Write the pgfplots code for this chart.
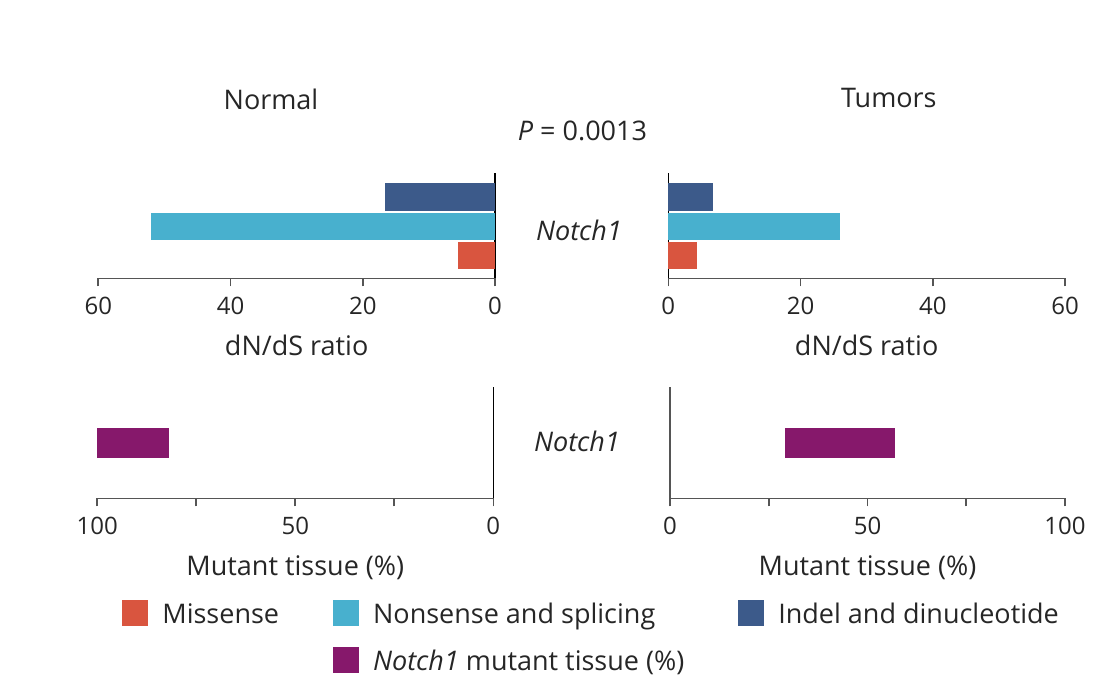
\documentclass[border=0pt]{standalone}
\usepackage{pgfplots}
\pgfplotsset{compat=1.18}
\usepackage{fontspec}
\setmainfont{Open Sans}
\definecolor{mred}{HTML}{D9553F}
\definecolor{mcyan}{HTML}{48B0CE}
\definecolor{mblue}{HTML}{3C5A8A}
\definecolor{mpurple}{HTML}{86186B}
\definecolor{axgray}{HTML}{555555}
\pgfplotsset{
  panel/.style={
    scale only axis,
    clip=false,
    axis x line*=bottom,
    x axis line style={draw=axgray, line width=0.8pt},
    ytick=\empty,
    tick align=outside,
    major tick length=4pt,
    xtick style={draw=axgray, line width=0.8pt},
    /pgf/number format/assume math mode=true,
    xticklabel style={font=\fontsize{12}{14}\selectfont, text=black!85, yshift=-2pt},
    xlabel style={font=\fontsize{13.5}{16}\selectfont, text=black!85, at={(axis description cs:0.5,0)}, anchor=base, yshift=-38.8pt},
  },
  sqlegend/.style={legend image code/.code={\fill[##1] (0pt,-1.7pt) rectangle (13pt,11.3pt);}},
}
\begin{document}
\begin{tikzpicture}
\useasboundingbox (0,0) rectangle (557pt,346.5pt);
% top left: Normal dN/dS
\begin{axis}[panel, at={(49.15pt,207.35pt)}, anchor=south west,
  width=198.35pt, height=52.65pt,
  axis y line*=right, y axis line style={draw=black, line width=0.8pt},
  x dir=reverse, xmin=0, xmax=60, ymin=-0.78, ymax=2.82,
  xtick={0,20,40,60}, xlabel={dN/dS ratio}]
\addplot[xbar, bar shift=0pt, bar width=13.65pt, fill=mred, draw=none] coordinates {(5.6,0)};
\addplot[xbar, bar shift=0pt, bar width=13.65pt, fill=mcyan, draw=none] coordinates {(52.1,1)};
\addplot[xbar, bar shift=0pt, bar width=13.65pt, fill=mblue, draw=none] coordinates {(16.6,2)};
\end{axis}
% top right: Tumors dN/dS
\begin{axis}[panel, at={(334.15pt,207.35pt)}, anchor=south west,
  width=198.35pt, height=52.65pt,
  axis y line*=left, y axis line style={draw=black, line width=0.8pt},
  xmin=0, xmax=60, ymin=-0.78, ymax=2.82,
  xtick={0,20,40,60}, xlabel={dN/dS ratio}]
\addplot[xbar, bar shift=0pt, bar width=13.65pt, fill=mred, draw=none] coordinates {(4.4,0)};
\addplot[xbar, bar shift=0pt, bar width=13.65pt, fill=mcyan, draw=none] coordinates {(26.0,1)};
\addplot[xbar, bar shift=0pt, bar width=13.65pt, fill=mblue, draw=none] coordinates {(6.8,2)};
\end{axis}
% bottom left: Normal mutant tissue
\begin{axis}[panel, at={(48.65pt,97.35pt)}, anchor=south west,
  width=198pt, height=55.65pt,
  axis y line*=right, y axis line style={draw=black, line width=0.8pt},
  x dir=reverse, xmin=0, xmax=100, ymin=-1, ymax=1,
  xtick={0,25,50,75,100}, xticklabels={0,,50,,100},
  xlabel={Mutant tissue (\%)},
  xbar stacked, bar width=15pt,
  legend columns=3,
  legend style={at={(axis description cs:0.0624,-0.914)}, anchor=north west,
    draw=none, fill=none, inner sep=0pt,
    font=\fontsize{13.5}{16}\selectfont, text=black!85,
    nodes={inner sep=0pt, anchor=base west},
    row sep=10.5pt,
    /tikz/every odd column/.append style={column sep=7pt},
    /tikz/every even column/.append style={column sep=27pt}},
  legend cell align=left]
\addplot[fill=none, draw=none, forget plot] coordinates {(81.8,0)};
\addplot[fill=mpurple, draw=none, forget plot] coordinates {(18.2,0)};
\addlegendimage{sqlegend, fill=mred, draw=none}
\addlegendentry{Missense}
\addlegendimage{sqlegend, fill=mcyan, draw=none}
\addlegendentry{Nonsense and splicing}
\addlegendimage{sqlegend, fill=mblue, draw=none}
\addlegendentry{Indel and dinucleotide}
\addlegendimage{empty legend}
\addlegendentry{}
\addlegendimage{sqlegend, fill=mpurple, draw=none}
\addlegendentry{\textit{Notch1} mutant tissue (\%)}
\addlegendimage{empty legend}
\addlegendentry{}
\end{axis}
% bottom right: Tumors mutant tissue
\begin{axis}[panel, at={(335pt,97.35pt)}, anchor=south west,
  width=197.5pt, height=55.65pt,
  axis y line*=left, y axis line style={draw=axgray, line width=0.8pt},
  xmin=0, xmax=100, ymin=-1, ymax=1,
  xtick={0,25,50,75,100}, xticklabels={0,,50,,100},
  xlabel={Mutant tissue (\%)},
  xbar stacked, bar width=15pt]
\addplot[fill=none, draw=none, forget plot] coordinates {(29.0,0)};
\addplot[fill=mpurple, draw=none, forget plot] coordinates {(28.0,0)};
\end{axis}
\begin{scope}[every node/.style={font=\fontsize{13.5}{16}\selectfont, text=black!85}]
\node at (135.5pt,297pt) {Normal};
\node at (444.4pt,297.5pt) {Tumors};
\node at (291.25pt,281pt) {\textit{P} = 0.0013};
\node at (289.5pt,231.5pt) {\textit{Notch1}};
\node at (288.5pt,125.65pt) {\textit{Notch1}};
\end{scope}
\end{tikzpicture}
\end{document}
